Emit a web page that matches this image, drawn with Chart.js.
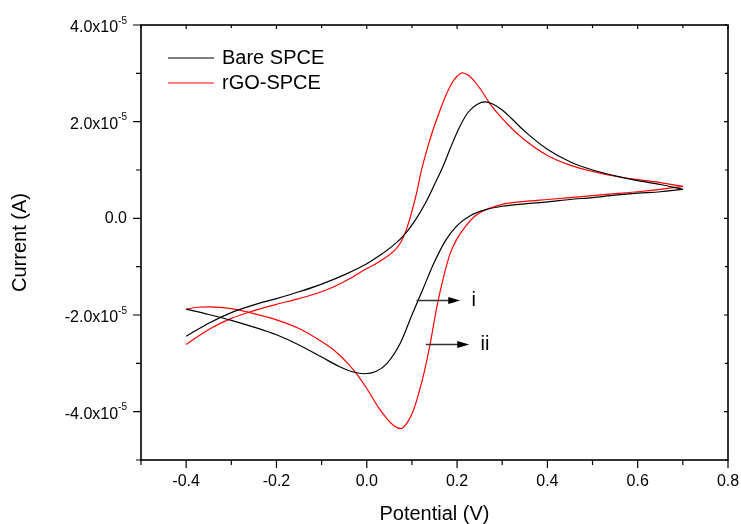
<!DOCTYPE html>
<html>
<head>
<meta charset="utf-8">
<script src="https://cdn.jsdelivr.net/npm/chart.js@4.4.1/dist/chart.umd.min.js"></script>
<style>
  html, body { margin: 0; padding: 0; background: #fff; }
</style>
</head>
<body>
<canvas id="cv" width="741" height="524"></canvas>
<script>
const FONT = "'Liberation Sans', Arial, sans-serif";

// axis ticks
const xTicks = [-0.4, -0.2, 0.0, 0.2, 0.4, 0.6, 0.8];
const xMinor = [-0.5, -0.3, -0.1, 0.1, 0.3, 0.5, 0.7];
const yTicks = [-4e-5, -2e-5, 0, 2e-5, 4e-5];
const yMinor = [-5e-5, -3e-5, -1e-5, 1e-5, 3e-5];
const yTickBase = ['-4.0x10', '-2.0x10', '0.0', '2.0x10', '4.0x10'];
const yTickExp = ['-5', '-5', '', '-5', '-5'];

const seriesNames = ['Bare SPCE', 'rGO-SPCE'];
const seriesColors = ['#000000', '#ff0000'];

// Bare SPCE, forward scan -0.4 -> 0.7 V
const bareFwdV = [-0.400, -0.350, -0.300, -0.250, -0.200, -0.150, -0.100, -0.060, -0.030, -0.005,
  0.020, 0.045, 0.075, 0.100, 0.125, 0.150, 0.175, 0.200, 0.230, 0.260, 0.300, 0.350, 0.400,
  0.450, 0.500, 0.550, 0.600, 0.650, 0.700];
const bareFwdI = [-1.88e-5, -1.99e-5, -2.11e-5, -2.25e-5, -2.41e-5, -2.62e-5, -2.87e-5, -3.07e-5, -3.18e-5, -3.215e-5,
  -3.17e-5, -3.00e-5, -2.57e-5, -2.00e-5, -1.45e-5, -0.90e-5, -0.45e-5, -0.15e-5, 0.06e-5, 0.17e-5, 0.25e-5, 0.30e-5, 0.34e-5,
  0.39e-5, 0.43e-5, 0.48e-5, 0.52e-5, 0.55e-5, 0.60e-5];
// Bare SPCE, reverse scan 0.7 -> -0.4 V
const bareRevV = [0.700, 0.650, 0.600, 0.550, 0.500, 0.450, 0.400, 0.350, 0.320, 0.300, 0.280, 0.262,
  0.245, 0.225, 0.205, 0.185, 0.170, 0.150, 0.133, 0.110, 0.085, 0.060, 0.030, 0.000, -0.050,
  -0.100, -0.150, -0.200, -0.250, -0.300, -0.350, -0.400];
const bareRevI = [0.60e-5, 0.70e-5, 0.78e-5, 0.88e-5, 1.00e-5, 1.17e-5, 1.43e-5, 1.80e-5, 2.07e-5, 2.24e-5, 2.36e-5, 2.41e-5,
  2.36e-5, 2.20e-5, 1.88e-5, 1.45e-5, 1.10e-5, 0.70e-5, 0.37e-5, 0.00e-5, -0.32e-5, -0.55e-5, -0.76e-5, -0.94e-5, -1.17e-5,
  -1.36e-5, -1.52e-5, -1.66e-5, -1.79e-5, -1.95e-5, -2.17e-5, -2.44e-5];

// rGO-SPCE, forward scan
const rgoFwdV = [-0.400, -0.375, -0.350, -0.300, -0.250, -0.200, -0.150, -0.100, -0.070, -0.040, -0.020,
  0.000, 0.025, 0.045, 0.060, 0.075, 0.090, 0.103, 0.115, 0.128, 0.140, 0.155, 0.170, 0.185, 0.200, 0.220,
  0.240, 0.270, 0.300, 0.350, 0.400, 0.450, 0.500, 0.550, 0.600, 0.650, 0.700];
const rgoFwdI = [-1.88e-5, -1.84e-5, -1.83e-5, -1.87e-5, -1.97e-5, -2.10e-5, -2.28e-5, -2.55e-5, -2.75e-5, -3.02e-5, -3.25e-5,
  -3.52e-5, -3.90e-5, -4.15e-5, -4.29e-5, -4.35e-5, -4.22e-5, -3.98e-5, -3.62e-5, -3.15e-5, -2.62e-5, -1.84e-5, -1.215e-5, -0.72e-5, -0.42e-5, -0.15e-5,
  0.05e-5, 0.20e-5, 0.29e-5, 0.35e-5, 0.39e-5, 0.43e-5, 0.47e-5, 0.51e-5, 0.55e-5, 0.60e-5, 0.66e-5];
// rGO-SPCE, reverse scan
const rgoRevV = [0.700, 0.650, 0.600, 0.550, 0.500, 0.450, 0.400, 0.350, 0.320, 0.295, 0.273, 0.255,
  0.240, 0.225, 0.212, 0.200, 0.190, 0.175, 0.160, 0.145, 0.133, 0.120, 0.110, 0.095, 0.085, 0.075,
  0.060, 0.040, 0.020, 0.000, -0.040, -0.074, -0.110, -0.150, -0.200, -0.250, -0.300, -0.350, -0.400];
const rgoRevI = [0.66e-5, 0.74e-5, 0.80e-5, 0.87e-5, 0.97e-5, 1.10e-5, 1.30e-5, 1.62e-5, 1.87e-5, 2.12e-5, 2.37e-5, 2.63e-5,
  2.82e-5, 2.96e-5, 3.01e-5, 2.94e-5, 2.82e-5, 2.54e-5, 2.18e-5, 1.78e-5, 1.41e-5, 0.95e-5, 0.51e-5, -0.02e-5, -0.30e-5, -0.50e-5,
  -0.68e-5, -0.82e-5, -0.94e-5, -1.04e-5, -1.26e-5, -1.42e-5, -1.55e-5, -1.66e-5, -1.78e-5, -1.91e-5, -2.07e-5, -2.30e-5, -2.61e-5];

// arrow annotations (i, ii)
const arrowText = ['i', 'ii'];
const arrowFromV = [0.110, 0.131];
const arrowToV = [0.207, 0.227];
const arrowI = [-1.70e-5, -2.61e-5];
const arrowTextV = [0.232, 0.252];

const toPts = (vs, is) => vs.map((v, k) => ({ x: v, y: is[k] }));

function scanLine(vs, is, s) {
  return {
    label: seriesNames[s], data: toPts(vs, is), borderColor: seriesColors[s], borderWidth: 1.2,
    showLine: true, pointRadius: 0, cubicInterpolationMode: 'monotone', fill: false
  };
}

const framePlugin = {
  id: 'frame',
  afterDraw(chart) {
    const { ctx, chartArea: a, scales: { x, y } } = chart;
    ctx.save();
    ctx.strokeStyle = '#000';
    ctx.lineWidth = 1.6;
    ctx.strokeRect(a.left, a.top, a.right - a.left, a.bottom - a.top);

    ctx.lineWidth = 1.2;
    ctx.beginPath();
    // x ticks: outward at bottom, inward at top
    xTicks.forEach(v => {
      const px = x.getPixelForValue(v);
      ctx.moveTo(px, a.bottom); ctx.lineTo(px, a.bottom + 8);
      ctx.moveTo(px, a.top); ctx.lineTo(px, a.top + 4);
    });
    xMinor.forEach(v => {
      const px = x.getPixelForValue(v);
      ctx.moveTo(px, a.bottom); ctx.lineTo(px, a.bottom + 5);
      ctx.moveTo(px, a.top); ctx.lineTo(px, a.top + 3);
    });
    // y ticks: outward at left, inward at right
    yTicks.forEach(v => {
      const py = y.getPixelForValue(v);
      ctx.moveTo(a.left, py); ctx.lineTo(a.left - 8, py);
      ctx.moveTo(a.right, py); ctx.lineTo(a.right - 4, py);
    });
    yMinor.forEach(v => {
      const py = y.getPixelForValue(v);
      ctx.moveTo(a.left, py); ctx.lineTo(a.left - 5, py);
      ctx.moveTo(a.right, py); ctx.lineTo(a.right - 3, py);
    });
    ctx.stroke();

    // y tick labels with superscript exponent
    ctx.fillStyle = '#000';
    ctx.textBaseline = 'middle';
    ctx.textAlign = 'right';
    const labelRight = a.left - 14;
    yTicks.forEach((v, k) => {
      const py = y.getPixelForValue(v);
      if (yTickExp[k]) {
        ctx.font = '10px ' + FONT;
        const ew = ctx.measureText(yTickExp[k]).width;
        ctx.fillText(yTickExp[k], labelRight, py - 4);
        ctx.font = '16px ' + FONT;
        ctx.fillText(yTickBase[k], labelRight - ew, py + 3);
      } else {
        ctx.font = '16px ' + FONT;
        ctx.fillText(yTickBase[k], labelRight, py);
      }
    });

    // legend
    ctx.textAlign = 'left';
    ctx.font = '20px ' + FONT;
    seriesNames.forEach((name, k) => {
      const ly = a.top + 33 + k * 25;
      ctx.strokeStyle = seriesColors[k];
      ctx.lineWidth = 1;
      ctx.beginPath();
      ctx.moveTo(a.left + 27, ly); ctx.lineTo(a.left + 73, ly);
      ctx.stroke();
      ctx.fillStyle = '#000';
      ctx.fillText(name, a.left + 81, ly);
    });

    // arrows
    arrowText.forEach((t, k) => {
      const py = y.getPixelForValue(arrowI[k]);
      const x0 = x.getPixelForValue(arrowFromV[k]);
      const x1 = x.getPixelForValue(arrowToV[k]);
      ctx.strokeStyle = '#333';
      ctx.lineWidth = 1.5;
      ctx.beginPath();
      ctx.moveTo(x0, py); ctx.lineTo(x1 - 10, py);
      ctx.stroke();
      ctx.fillStyle = '#000';
      ctx.beginPath();
      ctx.moveTo(x1, py); ctx.lineTo(x1 - 12, py - 3.5); ctx.lineTo(x1 - 12, py + 3.5);
      ctx.closePath();
      ctx.fill();
      ctx.font = '20px ' + FONT;
      ctx.fillText(t, x.getPixelForValue(arrowTextV[k]), py);
    });
    ctx.restore();
  }
};

new Chart(document.getElementById('cv'), {
  type: 'scatter',
  data: {
    datasets: [
      scanLine(bareFwdV, bareFwdI, 0),
      scanLine(bareRevV, bareRevI, 0),
      scanLine(rgoFwdV, rgoFwdI, 1),
      scanLine(rgoRevV, rgoRevI, 1)
    ]
  },
  options: {
    responsive: false,
    animation: false,
    layout: { padding: { left: 0, right: 13, top: 25, bottom: 0 } },
    plugins: { legend: { display: false }, tooltip: { enabled: false } },
    scales: {
      x: {
        type: 'linear', min: -0.5, max: 0.8,
        afterBuildTicks: s => { s.ticks = xTicks.map(v => ({ value: v })); },
        afterFit: s => { s.height = 64; s.paddingLeft = 0; s.paddingRight = 0; },
        grid: { display: false, drawTicks: false },
        border: { display: false },
        ticks: { color: '#000', font: { family: FONT, size: 16 }, padding: 12,
                 maxRotation: 0, autoSkip: false, callback: v => v.toFixed(1) },
        title: { display: true, text: 'Potential (V)', color: '#000',
                 font: { family: FONT, size: 20, lineHeight: 1 }, padding: 0 }
      },
      y: {
        type: 'linear', min: -5e-5, max: 4e-5,
        afterFit: s => { s.width = 141; s.paddingTop = 0; s.paddingBottom = 0; },
        grid: { display: false, drawTicks: false },
        border: { display: false },
        ticks: { display: false },
        title: { display: true, text: 'Current (A)', color: '#000',
                 font: { family: FONT, size: 20, lineHeight: 1 }, padding: { top: 10, bottom: 0 } }
      }
    }
  },
  plugins: [framePlugin]
});
</script>
</body>
</html>
